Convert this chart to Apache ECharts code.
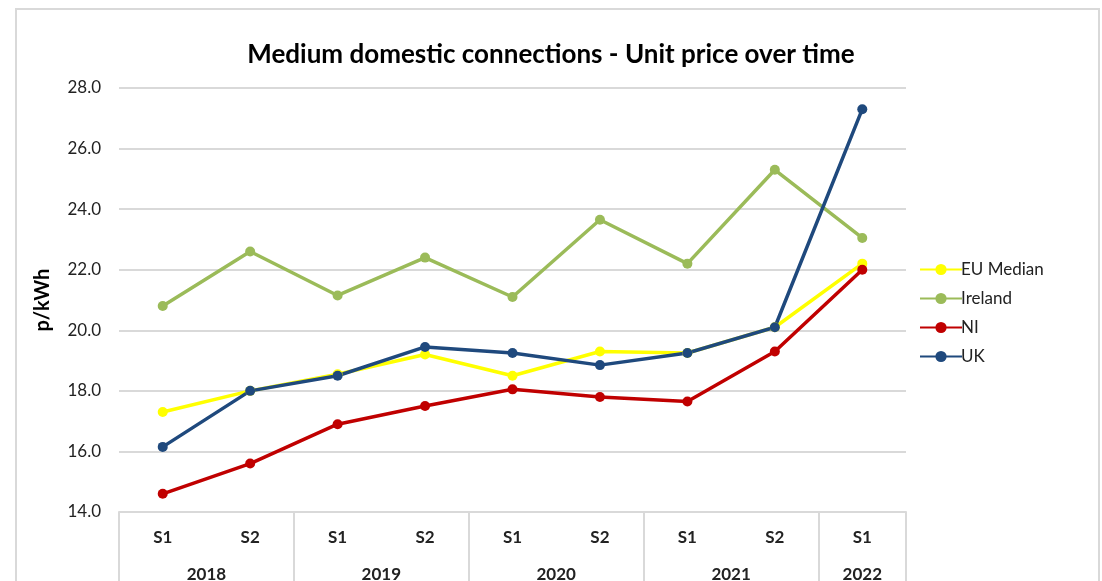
<!DOCTYPE html>
<html><head><meta charset="utf-8">
<script src="https://cdn.jsdelivr.net/npm/echarts@6/dist/echarts.min.js"></script>
<style>html,body{margin:0;padding:0;background:#fff}#c{width:1102px;height:581px}</style>
</head><body><div id="c"></div>
<script>
var periods = ['S1','S2','S1','S2','S1','S2','S1','S2','S1'];
var years = ['2018','2019','2020','2021','2022'];
var yearCounts = [2,2,2,2,1];
var euMedian = [17.3,18.0,18.55,19.2,18.5,19.3,19.25,20.1,22.2];
var ireland  = [20.8,22.6,21.15,22.4,21.1,23.65,22.2,25.3,23.05];
var ni       = [14.6,15.6,16.9,17.5,18.05,17.8,17.65,19.3,22.0];
var uk       = [16.15,18.0,18.5,19.45,19.25,18.85,19.25,20.1,27.3];
var yTicks = {min:14, max:28, interval:2};

// build half-slot axis for year groups
var yearAxisData = [];
var sepIdx = {};
var pos = 0;
var total = periods.length*2;
for (var i=0;i<=total;i++) yearAxisData.push('');
sepIdx[0]=true;
for (var g=0; g<years.length; g++){
  var span = yearCounts[g]*2;
  yearAxisData[pos + span/2] = years[g];
  pos += span;
  sepIdx[pos]=true;
}
var font = 'Lato, "Open Sans", "Liberation Sans", sans-serif';
function ser(name, data, color){
  return {name:name, type:'line', data:data, xAxisIndex:0, symbol:'circle', symbolSize:10,
    lineStyle:{width:3.5,color:color}, itemStyle:{color:color}, z: 3};
}
var chart = echarts.init(document.getElementById('c'));
chart.setOption({
  animation:false,
  backgroundColor:'#fff',
  textStyle:{fontFamily:font},
  graphic:[{type:'rect', shape:{x:16,y:9,width:1083,height:600}, style:{fill:null, stroke:'#d9d9d9', lineWidth:2}, silent:true}],
  title:{text:'Medium domestic connections - Unit price over time', left:'center', top:37,
    textStyle:{fontFamily:font, fontSize:26, fontWeight:'bold', color:'#000'}},
  legend:{orient:'vertical', left:914, top:256, itemGap:12, itemWidth:42, itemHeight:14,
    data:['EU Median','Ireland','NI','UK'],
    textStyle:{fontFamily:font, fontSize:17, color:'#222', padding:[0,0,0,-6]}},
  grid:{left:119, right:196, top:88, bottom:69, containLabel:false, outerBoundsMode:'none'},
  xAxis:[
    {type:'category', data:periods, boundaryGap:true, position:'bottom',
     axisLine:{lineStyle:{color:'#d9d9d9',width:2}}, axisTick:{show:false},
     axisLabel:{fontFamily:font, fontSize:17, fontWeight:'bold', color:'#222', margin:17}},
    {type:'category', data:yearAxisData, boundaryGap:false, position:'bottom', offset:0,
     axisLine:{show:false},
     axisTick:{show:true, length:70, lineStyle:{color:'#d9d9d9',width:2}, interval:function(i){return !!sepIdx[i];}},
     axisLabel:{interval:function(i,v){return v!=='';}, fontFamily:font, fontSize:17, fontWeight:'bold', color:'#222', margin:54}}
  ],
  yAxis:{type:'value', min:yTicks.min, max:yTicks.max, interval:yTicks.interval,
    name:'p/kWh', nameLocation:'middle', nameGap:66, nameRotate:90,
    nameTextStyle:{fontFamily:font, fontSize:20, fontWeight:'bold', color:'#000'},
    axisLine:{show:false}, axisTick:{show:false},
    axisLabel:{fontFamily:font, fontSize:17, color:'#222', margin:18, formatter:function(v){return v.toFixed(1);}},
    splitLine:{lineStyle:{color:'#d9d9d9',width:2}}},
  series:[
    ser('EU Median', euMedian, '#ffff00'),
    ser('Ireland', ireland, '#9bbb59'),
    ser('NI', ni, '#c00000'),
    ser('UK', uk, '#1f497d')
  ]
});
</script></body></html>
